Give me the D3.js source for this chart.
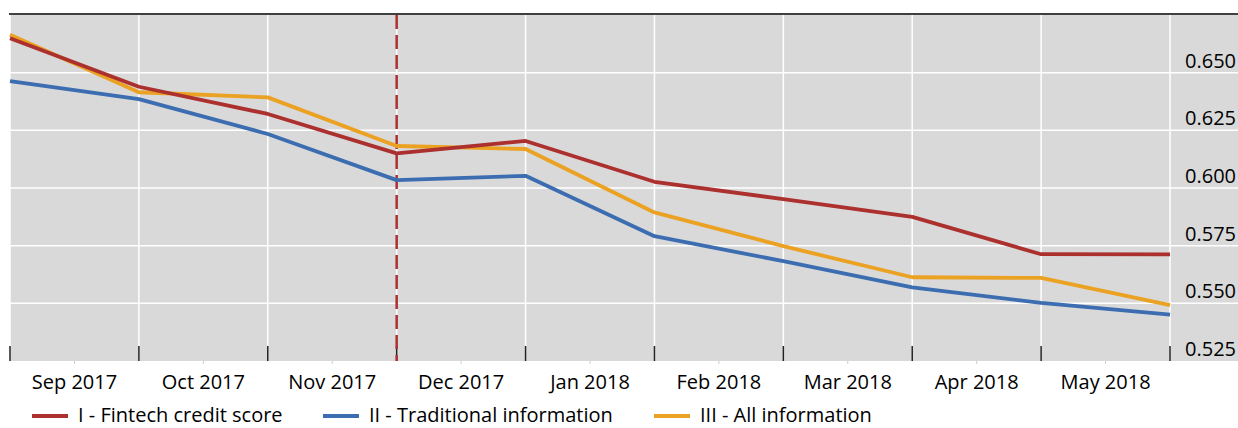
<!DOCTYPE html>
<html>
<head>
<meta charset="utf-8">
<script src="https://cdn.jsdelivr.net/npm/d3@7"></script>
<style>
  body { margin: 0; background: #fff; }
  svg { display: block; font-family: "Open Sans", sans-serif; }
</style>
</head>
<body>
<svg id="chart" width="1238" height="428"></svg>
<script>
// month-end observation points
let points = ["2017-08", "2017-09", "2017-10", "2017-11", "2017-12",
              "2018-01", "2018-02", "2018-03", "2018-04", "2018-05"];
// month labels sit between the points
let months = ["Sep 2017", "Oct 2017", "Nov 2017", "Dec 2017", "Jan 2018",
              "Feb 2018", "Mar 2018", "Apr 2018", "May 2018"];

let fintech     = [0.6649, 0.6439, 0.6321, 0.6150, 0.6204, 0.6027, 0.5952, 0.5875, 0.5713, 0.5712];
let traditional = [0.6463, 0.6385, 0.6234, 0.6034, 0.6053, 0.5791, 0.5683, 0.5569, 0.5502, 0.5451];
let allInfo     = [0.6664, 0.6415, 0.6393, 0.6182, 0.6169, 0.5894, 0.5748, 0.5613, 0.5610, 0.5492];

let yTicks = [0.525, 0.550, 0.575, 0.600, 0.625, 0.650];
let breakPoint = "2017-11";   // dashed vertical line

let series = [
  {name: "I - Fintech credit score", values: fintech, color: "#ab302e"},
  {name: "II - Traditional information", values: traditional, color: "#3b6db0"},
  {name: "III - All information", values: allInfo, color: "#eba122"}
];

let svg = d3.select("#chart");

let plotLeft = 10, plotRight = 1170, plotTop = 15, plotBottom = 361;

let xScale = d3.scalePoint().domain(points).range([plotLeft, plotRight]);
let xBand = d3.scaleBand().domain(months).range([plotLeft, plotRight]).padding(0);
let yScale = d3.scaleLinear().domain([0.525, 0.675]).range([plotBottom, plotTop]);

// background
svg.append("rect")
  .attr("x", plotLeft).attr("y", plotTop)
  .attr("width", 1238 - plotLeft).attr("height", plotBottom - plotTop)
  .attr("fill", "#d9d9d9");

// horizontal grid
svg.append("g")
  .selectAll("line")
  .data(yTicks.slice(1))
  .join("line")
  .attr("x1", plotLeft - 1).attr("x2", 1238)
  .attr("y1", d => yScale(d)).attr("y2", d => yScale(d))
  .attr("stroke", "#fff").attr("stroke-width", 1.5);

// vertical grid
svg.append("g")
  .selectAll("line")
  .data(points)
  .join("line")
  .attr("x1", d => xScale(d)).attr("x2", d => xScale(d))
  .attr("y1", plotTop).attr("y2", plotBottom)
  .attr("stroke", "#fff").attr("stroke-width", 1.5);

// top rule
svg.append("line")
  .attr("x1", plotLeft - 1).attr("x2", 1238)
  .attr("y1", plotTop - 1).attr("y2", plotTop - 1)
  .attr("stroke", "#000").attr("stroke-width", 1.5);

// right-hand value labels, sitting above their gridline
svg.append("g")
  .selectAll("text")
  .data(yTicks)
  .join("text")
  .attr("x", 1236)
  .attr("y", d => yScale(d) - 5)
  .attr("text-anchor", "end")
  .style("font-size", "20px")
  .attr("fill", "#000")
  .text(d => d3.format(".3f")(d));

// bottom axis: major ticks at the points
svg.append("g")
  .selectAll("line")
  .data(points)
  .join("line")
  .attr("x1", d => xScale(d)).attr("x2", d => xScale(d))
  .attr("y1", plotBottom - 15).attr("y2", plotBottom)
  .attr("stroke", "#222").attr("stroke-width", 1.5);

// month labels (minor ticks in the middle)
let xAxis = svg.append("g")
  .attr("transform", "translate(0," + plotBottom + ")")
  .call(d3.axisBottom(xBand).tickSize(3).tickPadding(11).tickSizeOuter(0));
xAxis.select(".domain").remove();
xAxis.selectAll(".tick line").attr("stroke", "#ccc");
xAxis.selectAll(".tick text")
  .style("font-size", "20px")
  .style("font-family", "Open Sans, sans-serif")
  .attr("fill", "#000");

// dashed break line
svg.append("line")
  .attr("x1", xScale(breakPoint)).attr("x2", xScale(breakPoint))
  .attr("y1", plotTop).attr("y2", plotBottom)
  .attr("stroke", "#ab302e").attr("stroke-width", 2.5)
  .attr("stroke-dasharray", "14,6");

// lines
let line = d3.line()
  .x((d, i) => xScale(points[i]))
  .y(d => yScale(d));

svg.append("g")
  .selectAll("path")
  .data([series[2], series[1], series[0]])
  .join("path")
  .attr("d", d => line(d.values))
  .attr("fill", "none")
  .attr("stroke", d => d.color)
  .attr("stroke-width", 3.8)
  .attr("stroke-linejoin", "round");

// legend
let legendX = [32, 323, 654];
let legend = svg.append("g")
  .selectAll("g")
  .data(series)
  .join("g")
  .attr("transform", (d, i) => "translate(" + legendX[i] + ",416)");

legend.append("line")
  .attr("x1", 0).attr("x2", 36)
  .attr("stroke", d => d.color)
  .attr("stroke-width", 4);

legend.append("text")
  .attr("x", 46)
  .attr("y", 6)
  .style("font-size", "20px")
  .attr("fill", "#000")
  .text(d => d.name);
</script>
</body>
</html>
